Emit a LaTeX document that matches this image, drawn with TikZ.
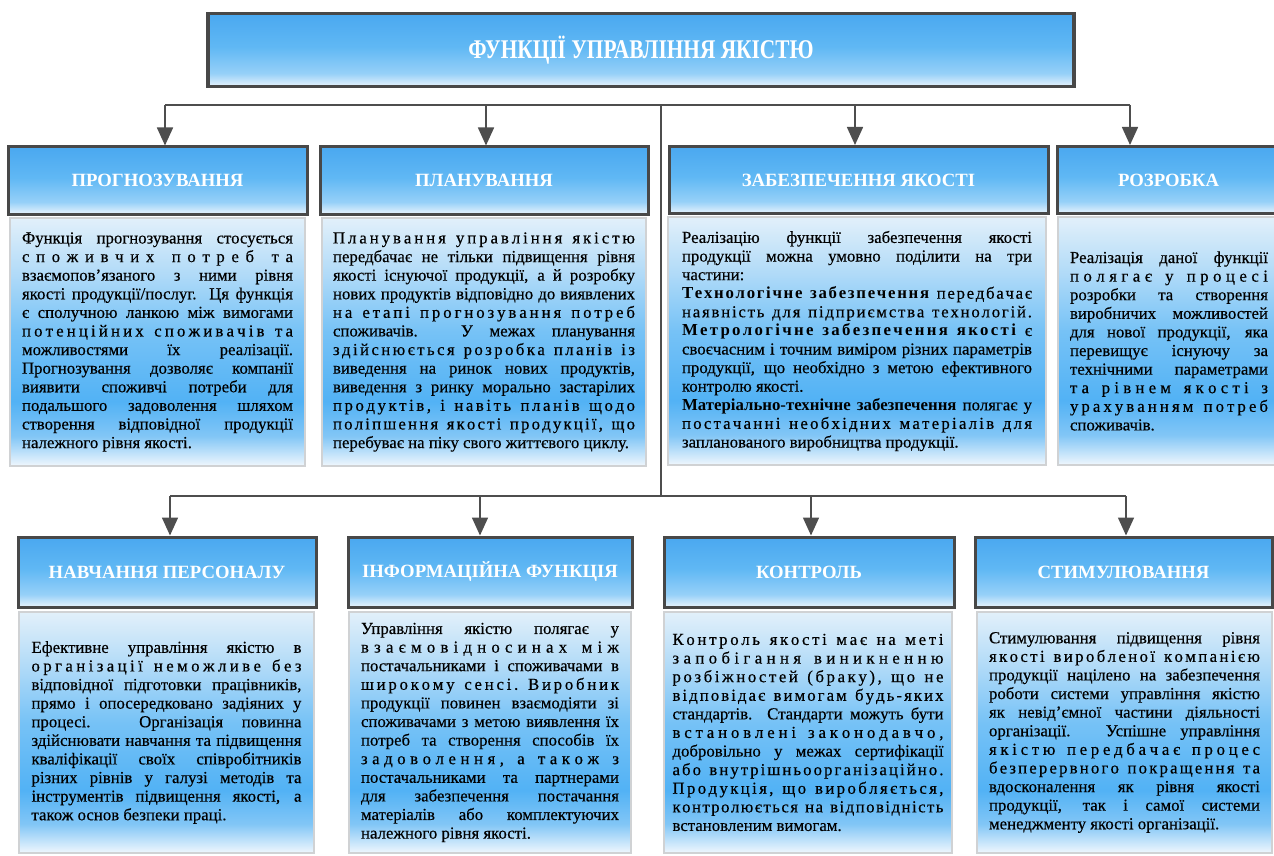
\documentclass[tikz,border=0pt]{standalone}
\usepackage{fontspec}
\setmainfont{Liberation Serif}[UprightFeatures={FakeBold=0.4}]
\usepackage{graphicx}
\usetikzlibrary{arrows.meta, positioning}

\definecolor{hdrline}{RGB}{72,72,72}
\definecolor{boxline}{RGB}{208,210,212}
\definecolor{connline}{RGB}{78,78,78}
\definecolor{ta}{RGB}{240,247,253}
\definecolor{tb}{RGB}{130,198,246}
\definecolor{tc}{RGB}{82,178,245}
\definecolor{td}{RGB}{118,194,246}
\definecolor{te}{RGB}{178,219,248}
\definecolor{tf}{RGB}{226,240,250}
\definecolor{ha}{RGB}{232,243,252}
\definecolor{hb}{RGB}{150,208,248}
\definecolor{hc}{RGB}{96,184,244}
\definecolor{hd}{RGB}{74,168,240}

\pgfdeclareverticalshading{txtshade}{100bp}{color(0bp)=(ta); color(25bp)=(ta);
  color(31bp)=(tb); color(38bp)=(tc); color(52bp)=(td); color(64bp)=(te);
  color(75bp)=(tf); color(100bp)=(tf)}
\pgfdeclareverticalshading{hdrshade}{100bp}{color(0bp)=(ha); color(25bp)=(ha);
  color(34bp)=(hb); color(52bp)=(hc); color(75bp)=(hd); color(100bp)=(hd)}

\hbadness=10000
\hfuzz=20pt
\hyphenpenalty=10000

% full-width line, squeezed when too long
\newcommand\justln[1]{\setbox0=\hbox{#1}%
  \ifdim\wd0>\hsize\resizebox{\hsize}{\height}{#1}\else\hbox to\hsize{#1}\fi}

% full-width line with the letters spread, *word = bold word
\ExplSyntaxOn
\seq_new:N \l__rs_words_seq
\NewDocumentCommand \spreadln { m }
  {
    \seq_set_split:Nnn \l__rs_words_seq { ~ } {#1}
    \hbox_to_wd:nn { \hsize }
      {
        \hskip 0pt plus -1fil\relax
        \seq_map_indexed_inline:Nn \l__rs_words_seq
          {
            \int_compare:nNnT {##1} > { 1 } { \hskip \fontdimen2\font plus 1fil\relax }
            \tl_if_head_eq_charcode:nNTF {##2} *
              {
                \group_begin: \bfseries
                \exp_args:Ne \tl_map_inline:nn { \tl_tail:n {##2} }
                  { \hskip 0pt plus 1fil\relax ####1 }
                \group_end:
              }
              { \tl_map_inline:nn {##2} { \hskip 0pt plus 1fil\relax ####1 } }
          }
      }
  }
\ExplSyntaxOff

\begin{document}
\begin{tikzpicture}[x=1pt, y=-1pt,
    hdr/.style={draw=hdrline, line width=3pt, shading=hdrshade, text=white,
      font=\fontsize{18.7}{21}\selectfont\bfseries, minimum height=67pt},
    ttl/.style={hdr, line width=3.5pt, minimum width=866pt, minimum height=73pt,
      font=\fontsize{27}{29}\selectfont\bfseries},
    txtbox/.style={draw=boxline, line width=2.5pt, shading=txtshade,
      font=\fontsize{16.8}{18.6}\selectfont, align=justify, minimum height=248pt},
    conn/.style={draw=connline, line width=1.6pt},
    arr/.style={conn, -{Triangle[width=16pt, length=18pt]}}]
    \path[use as bounding box, fill=white] (0,0) rectangle (1274,856);

    \node[ttl] (func) at (641,50) {\scalebox{0.79}[1]{ФУНКЦІЇ УПРАВЛІННЯ ЯКІСТЮ}};

    \node[hdr, minimum width=299pt] (prog) at (157.5,180.5) {ПРОГНОЗУВАННЯ};
    \node[hdr, minimum width=328pt] (plan) at (484,180.5) {ПЛАНУВАННЯ};
    \node[hdr, minimum width=379pt] (zabez) at (858.5,180) {ЗАБЕЗПЕЧЕННЯ ЯКОСТІ};
    \node[hdr, minimum width=223pt] (rozr) at (1168.5,180) {РОЗРОБКА};

    \node[txtbox, minimum width=295pt, text width=271pt] (progtxt) at (157.5,342) {\justln{Функція прогнозування стосується}\\
      \spreadln{споживчих потреб та}\\
      \justln{взаємопов'язаного з ними рівня}\\
      \justln{якості продукції/послуг. Ця функція}\\
      \justln{є сполучною ланкою між вимогами}\\
      \spreadln{потенційних споживачів та}\\
      \justln{можливостями їх реалізації.}\\
      \justln{Прогнозування дозволяє компанії}\\
      \justln{виявити споживчі потреби для}\\
      \justln{подальшого задоволення шляхом}\\
      \justln{створення відповідної продукції}\\
      належного рівня якості.};
    \node[txtbox, minimum width=324pt, text width=302pt] (plantxt) at (484,342) {\spreadln{Планування управління якістю}\\
      \justln{передбачає не тільки підвищення рівня}\\
      \justln{якості існуючої продукції, а й розробку}\\
      \justln{нових продуктів відповідно до виявлених}\\
      \spreadln{на етапі прогнозування потреб}\\
      \justln{споживачів. У межах планування}\\
      \spreadln{здійснюється розробка планів із}\\
      \justln{виведення на ринок нових продуктів,}\\
      \justln{виведення з ринку морально застарілих}\\
      \spreadln{продуктів, і навіть планів щодо}\\
      \spreadln{поліпшення якості продукції, що}\\
      перебуває на піку свого життєвого циклу.};
    \node[txtbox, minimum width=378pt, text width=350pt] (zabeztxt) at (857,341) {\justln{Реалізацію функції забезпечення якості}\\
      \justln{продукції можна умовно поділити на три}\\
      частини:\\
      \spreadln{*Технологічне *забезпечення передбачає}\\
      \spreadln{наявність для підприємства технологій.}\\
      \spreadln{*Метрологічне *забезпечення *якості є}\\
      \justln{своєчасним і точним виміром різних параметрів}\\
      \justln{продукції, що необхідно з метою ефективного}\\
      контролю якості.\\
      \justln{\textbf{Матеріально-технічне забезпечення} полягає у}\\
      \spreadln{постачанні необхідних матеріалів для}\\
      запланованого виробництва продукції.};
    \node[txtbox, minimum width=222pt, text width=198pt] (rozrtxt) at (1169,341) {\justln{Реалізація даної функції}\\
      \spreadln{полягає у процесі}\\
      \justln{розробки та створення}\\
      \justln{виробничих можливостей}\\
      \justln{для нової продукції, яка}\\
      \justln{перевищує існуючу за}\\
      \justln{технічними параметрами}\\
      \spreadln{та рівнем якості з}\\
      \spreadln{урахуванням потреб}\\
      споживачів.};

    \node[hdr, minimum width=298pt, minimum height=70pt] (navch) at (167,572) {НАВЧАННЯ ПЕРСОНАЛУ};
    \node[hdr, minimum width=284pt, minimum height=70pt] (inform) at (490,572) {ІНФОРМАЦІЙНА ФУНКЦІЯ};
    \node[hdr, minimum width=290pt, minimum height=70pt] (kontr) at (809,572) {КОНТРОЛЬ};
    \node[hdr, minimum width=297pt, minimum height=70pt] (stym) at (1123.5,572) {СТИМУЛЮВАННЯ};

    \node[txtbox, minimum width=295pt, minimum height=241pt, text width=270pt] (navchtxt) at (166.5,732.5) {\justln{Ефективне управління якістю в}\\
      \spreadln{організації неможливе без}\\
      \justln{відповідної підготовки працівників,}\\
      \justln{прямо і опосередковано задіяних у}\\
      \justln{процесі. Організація повинна}\\
      \justln{здійснювати навчання та підвищення}\\
      \justln{кваліфікації своїх співробітників}\\
      \justln{різних рівнів у галузі методів та}\\
      \justln{інструментів підвищення якості, а}\\
      також основ безпеки праці.};
    \node[txtbox, minimum width=282pt, minimum height=241pt, text width=258pt] (informtxt) at (490,732.5) {\justln{Управління якістю полягає у}\\
      \spreadln{взаємовідносинах між}\\
      \justln{постачальниками і споживачами в}\\
      \spreadln{широкому сенсі. Виробник}\\
      \justln{продукції повинен взаємодіяти зі}\\
      \justln{споживачами з метою виявлення їх}\\
      \justln{потреб та створення способів їх}\\
      \spreadln{задоволення, а також з}\\
      \justln{постачальниками та партнерами}\\
      \justln{для забезпечення постачання}\\
      \justln{матеріалів або комплектуючих}\\
      належного рівня якості.};
    \node[txtbox, minimum width=288pt, minimum height=241pt, text width=271pt] (kontrtxt) at (808,732.5) {\spreadln{Контроль якості має на меті}\\
      \spreadln{запобігання виникненню}\\
      \spreadln{розбіжностей (браку), що не}\\
      \spreadln{відповідає вимогам будь-яких}\\
      \justln{стандартів. Стандарти можуть бути}\\
      \spreadln{встановлені законодавчо,}\\
      \justln{добровільно у межах сертифікації}\\
      \spreadln{або внутрішньоорганізаційно.}\\
      \spreadln{Продукція, що виробляється,}\\
      \spreadln{контролюється на відповідність}\\
      встановленим вимогам.};
    \node[txtbox, minimum width=295pt, minimum height=241pt, text width=271pt] (stymtxt) at (1124.5,732.5) {\justln{Стимулювання підвищення рівня}\\
      \spreadln{якості виробленої компанією}\\
      \justln{продукції націлено на забезпечення}\\
      \justln{роботи системи управління якістю}\\
      \justln{як невід'ємної частини діяльності}\\
      \justln{організації. Успішне управління}\\
      \spreadln{якістю передбачає процес}\\
      \spreadln{безперервного покращення та}\\
      \justln{вдосконалення як рівня якості}\\
      \justln{продукції, так і самої системи}\\
      менеджменту якості організації.};

    \coordinate (busL) at (165,105);
    \coordinate (busR) at (1130,105);
    \coordinate (busM) at (661,105);
    \coordinate (lowL) at (170,496);
    \coordinate (lowR) at (1126,496);
    \coordinate (lowM) at (661,496);
    \coordinate (tp2) at (486,105);
    \coordinate (tp3) at (855,105);
    \coordinate (lp2) at (480,496);
    \coordinate (lp3) at (811,496);

    \draw[conn] (busL) -- (busR);
    \draw[conn] (busM) -- (lowM);
    \draw[conn] (lowL) -- (lowR);
    \draw[arr] (busL) -- (busL |- prog.north);
    \draw[arr] (tp2) -- (tp2 |- plan.north);
    \draw[arr] (tp3) -- (tp3 |- zabez.north);
    \draw[arr] (busR) -- (busR |- rozr.north);
    \draw[arr] (lowL) -- (lowL |- navch.north);
    \draw[arr] (lp2) -- (lp2 |- inform.north);
    \draw[arr] (lp3) -- (lp3 |- kontr.north);
    \draw[arr] (lowR) -- (lowR |- stym.north);
  \end{tikzpicture}
\end{document}
